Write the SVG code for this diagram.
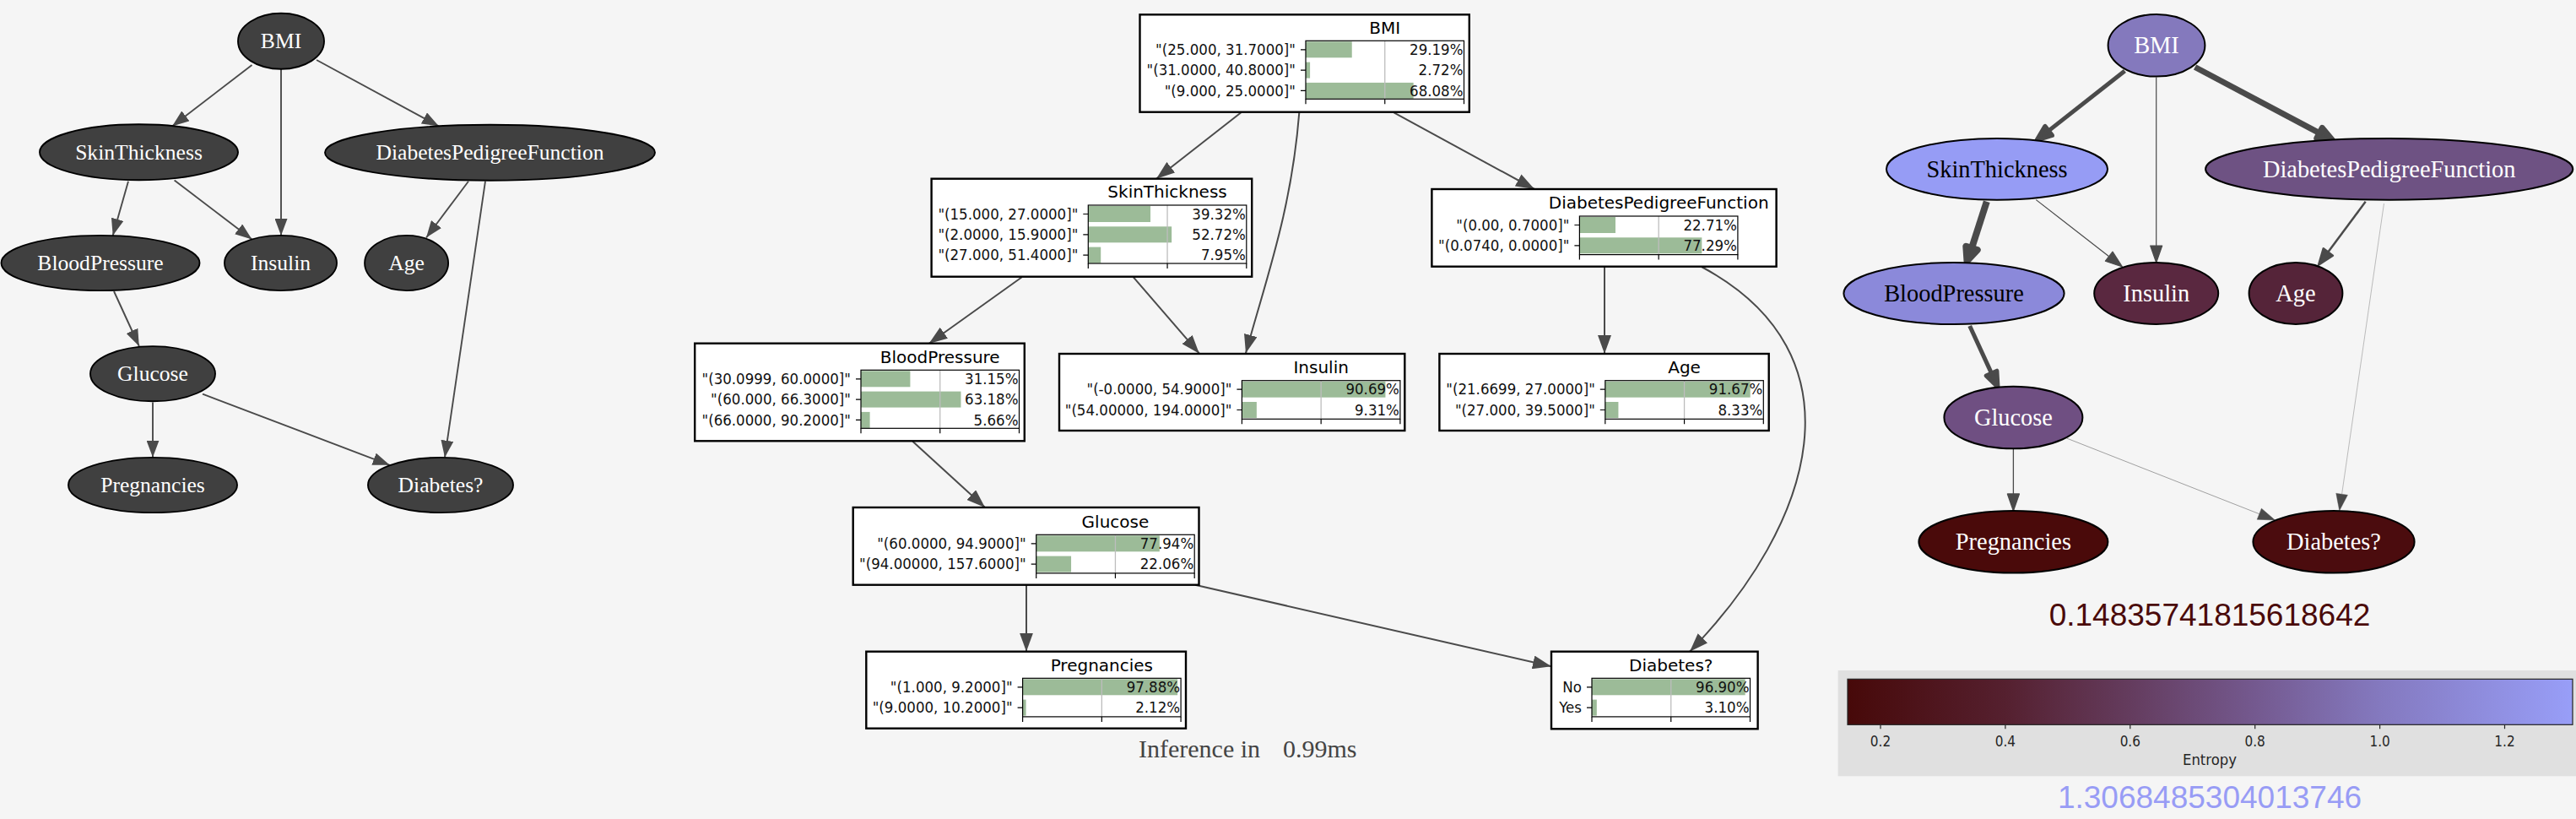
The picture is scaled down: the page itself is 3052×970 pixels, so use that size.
<svg xmlns="http://www.w3.org/2000/svg" width="3052" height="970" viewBox="0 0 3052 970">
<defs>
<style>
.ln ellipse{fill:#404040;stroke:#000;stroke-width:1.9}
.ln text{font-family:"Liberation Serif","Times New Roman",serif;font-size:25.6px;fill:#fff;text-anchor:middle}
.rn ellipse{stroke:#000;stroke-width:2}
.rn text{font-family:"Liberation Serif","Times New Roman",serif;font-size:28.4px;fill:#fff;text-anchor:middle}
.rn text.dk{fill:#000}
.edge{fill:none;stroke:#4a4a4a;stroke-width:1.9}
.medge{fill:none;stroke:#4a4a4a;stroke-width:2}
.ah{fill:#4a4a4a;stroke:#4a4a4a;stroke-linejoin:round}
.box{fill:#fff;stroke:#000;stroke-width:2.4}
.bar{fill:#9cbb98}
.grid{stroke:#bdbdbd;stroke-width:1.3}
.frame{fill:none;stroke:#000;stroke-width:1.2}
.tick{fill:none;stroke:#000;stroke-width:1.2}
.ttl{font-family:"DejaVu Sans",sans-serif;font-size:20px;fill:#000;text-anchor:middle}
.lab{font-family:"DejaVu Sans",sans-serif;font-size:18px;fill:#111;text-anchor:end}
.inf{font-family:"Liberation Serif","Times New Roman",serif;font-size:30px;fill:#444}
.cbl{font-family:"DejaVu Sans",sans-serif;font-size:16.8px;fill:#262626;text-anchor:middle}
.big{font-family:"Liberation Sans",Arial,sans-serif;font-size:37px;text-anchor:middle}
</style>
<marker id="al" markerUnits="userSpaceOnUse" markerWidth="20" markerHeight="15" viewBox="0 0 20 15" refX="20" refY="7.5" orient="auto"><path d="M0,0L20,7.5L0,15z" fill="#4a4a4a"/></marker>
<marker id="am" markerUnits="userSpaceOnUse" markerWidth="22" markerHeight="16" viewBox="0 0 22 16" refX="22" refY="8" orient="auto"><path d="M0,0L22,8L0,16z" fill="#4a4a4a"/></marker>
<linearGradient id="cmap" x1="0" y1="0" x2="1" y2="0">
<stop offset="0" stop-color="#470909"/>
<stop offset="0.2176" stop-color="#55202f"/>
<stop offset="0.3898" stop-color="#643c5e"/>
<stop offset="0.562" stop-color="#74598f"/>
<stop offset="0.7342" stop-color="#8479bf"/>
<stop offset="1" stop-color="#989ef8"/>
</linearGradient>
</defs>
<rect x="0" y="0" width="3052" height="970" fill="#f5f5f5"/>

<g id="connectors">
<g id="edges-left">
<line class="edge" x1="298.5" y1="77" x2="204" y2="149.5" marker-end="url(#al)"/>
<line class="edge" x1="333" y1="82" x2="333" y2="279" marker-end="url(#al)"/>
<line class="edge" x1="375" y1="71" x2="520" y2="149.5" marker-end="url(#al)"/>
<line class="edge" x1="152" y1="214.7" x2="133.7" y2="279" marker-end="url(#al)"/>
<line class="edge" x1="206.6" y1="213.5" x2="298.5" y2="283.5" marker-end="url(#al)"/>
<line class="edge" x1="555" y1="214.7" x2="505" y2="281.5" marker-end="url(#al)"/>
<line class="edge" x1="575" y1="214.7" x2="527" y2="541.7" marker-end="url(#al)"/>
<line class="edge" x1="135" y1="345" x2="164.8" y2="410" marker-end="url(#al)"/>
<line class="edge" x1="181" y1="476.5" x2="181" y2="541.7" marker-end="url(#al)"/>
<line class="edge" x1="240" y1="466.6" x2="461.7" y2="550.8" marker-end="url(#al)"/>
</g>
<g id="edges-middle">
<line class="medge" x1="1470.4" y1="133.3" x2="1370" y2="211.7" marker-end="url(#am)"/>
<path class="medge" d="M1539.3,133.3C1530,250 1500,330 1476,418.3" marker-end="url(#am)"/>
<line class="medge" x1="1651.5" y1="133.3" x2="1818" y2="224" marker-end="url(#am)"/>
<line class="medge" x1="1210.7" y1="328.3" x2="1100.5" y2="407" marker-end="url(#am)"/>
<line class="medge" x1="1342.9" y1="328.3" x2="1420.9" y2="418.7" marker-end="url(#am)"/>
<line class="medge" x1="1901" y1="315.7" x2="1901" y2="419" marker-end="url(#am)"/>
<path class="medge" d="M2016,316C2210,420 2150,620 2002,771.7" marker-end="url(#am)"/>
<line class="medge" x1="1081.3" y1="522.7" x2="1167" y2="601" marker-end="url(#am)"/>
<line class="medge" x1="1216" y1="693" x2="1216" y2="771.7" marker-end="url(#am)"/>
<line class="medge" x1="1416" y1="692.7" x2="1838" y2="789.3" marker-end="url(#am)"/>
</g>
<g id="edges-right">
<line class="edge" style="stroke-width:5" x1="2517.4" y1="84" x2="2427.2" y2="154.9"/>
<polygon class="ah" style="stroke-width:5" points="2431.5,160.4 2422.9,149.4 2413,166"/>
<line class="edge" style="stroke-width:1.2" x1="2554.7" y1="91.5" x2="2554.7" y2="291"/>
<polygon class="ah" style="stroke-width:1.2" points="2547.7,291 2561.7,291 2554.7,311"/>
<line class="edge" style="stroke-width:7" x1="2600.6" y1="79.5" x2="2748" y2="157.6"/>
<polygon class="ah" style="stroke-width:7" points="2744.7,163.8 2751.3,151.4 2763,165.5"/>
<line class="edge" style="stroke-width:8" x1="2353.8" y1="238.8" x2="2336" y2="293.9"/>
<polygon class="ah" style="stroke-width:8" points="2342.7,296 2329.3,291.8 2330.5,309"/>
<line class="edge" style="stroke-width:1.2" x1="2412.3" y1="236.6" x2="2498.7" y2="303.7"/>
<polygon class="ah" style="stroke-width:1.2" points="2494.4,309.2 2503,298.2 2514.5,316"/>
<line class="edge" style="stroke-width:2.5" x1="2802.7" y1="238.8" x2="2758.3" y2="298.5"/>
<polygon class="ah" style="stroke-width:2.5" points="2763.9,302.7 2752.7,294.3 2747,313.8"/>
<line class="edge" style="stroke-width:0.35" x1="2824.5" y1="241" x2="2774.6" y2="585.2"/>
<polygon class="ah" style="stroke-width:0.35" points="2781.5,586.2 2767.7,584.2 2771.7,605"/>
<line class="edge" style="stroke-width:5" x1="2333.7" y1="386" x2="2359.5" y2="442.1"/>
<polygon class="ah" style="stroke-width:5" points="2353.1,445 2365.9,439.2 2367,458.5"/>
<line class="edge" style="stroke-width:1.3" x1="2385.4" y1="531.3" x2="2385.4" y2="585"/>
<polygon class="ah" style="stroke-width:1.3" points="2378.4,585 2392.4,585 2385.4,605"/>
<line class="edge" style="stroke-width:0.5" x1="2448.5" y1="519" x2="2676.8" y2="608.7"/>
<polygon class="ah" style="stroke-width:0.5" points="2674.2,615.2 2679.4,602.2 2695.4,616"/>
</g>
</g>

<g id="left-graph">
<g id="l-BMI" class="ln"><ellipse cx="333" cy="48.8" rx="51" ry="33"/><text x="333" y="57.3">BMI</text></g>
<g id="l-SkinThickness" class="ln"><ellipse cx="164.5" cy="180.3" rx="117.5" ry="33"/><text x="164.5" y="188.8">SkinThickness</text></g>
<g id="l-DiabetesPedigreeFunction" class="ln"><ellipse cx="580.5" cy="180.8" rx="195.5" ry="33"/><text x="580.5" y="189.3">DiabetesPedigreeFunction</text></g>
<g id="l-BloodPressure" class="ln"><ellipse cx="119" cy="311.5" rx="117.5" ry="32.6"/><text x="119" y="320">BloodPressure</text></g>
<g id="l-Insulin" class="ln"><ellipse cx="332.5" cy="311.5" rx="66.5" ry="32.6"/><text x="332.5" y="320">Insulin</text></g>
<g id="l-Age" class="ln"><ellipse cx="481.6" cy="311.5" rx="49.5" ry="32.6"/><text x="481.6" y="320">Age</text></g>
<g id="l-Glucose" class="ln"><ellipse cx="181" cy="442.7" rx="74" ry="32.6"/><text x="181" y="451.2">Glucose</text></g>
<g id="l-Pregnancies" class="ln"><ellipse cx="181" cy="574.5" rx="100" ry="32.6"/><text x="181" y="583">Pregnancies</text></g>
<g id="l-Diabetes" class="ln"><ellipse cx="522" cy="574.5" rx="86" ry="32.6"/><text x="522" y="583">Diabetes?</text></g>
</g>

<g id="middle-graph">
<g id="m-BMI">
<rect class="box" x="1350.5" y="17.3" width="390.3" height="115.4"/>
<g transform="translate(1547,48.3)">
<text class="ttl" x="93.75" y="-8.7">BMI</text>
<rect class="bar" x="0" y="1" width="54.73" height="19"/><rect class="bar" x="0" y="25.3" width="5.1" height="19"/><rect class="bar" x="0" y="49.6" width="127.65" height="19"/>
<line class="grid" x1="93.75" y1="0" x2="93.75" y2="69"/>
<rect class="frame" x="0" y="0" width="187.5" height="69"/>
<path class="tick" d="M-6,10.5H0M-6,34.8H0M-6,59.1H0M0,69v6M93.75,69v6M187.5,69v6"/>
<g transform="translate(-12 0) scale(0.925 1)"><text class="lab" y="16.7">"(25.000, 31.7000]"</text><text class="lab" y="41">"(31.0000, 40.8000]"</text><text class="lab" y="65.3">"(9.000, 25.0000]"</text></g>
<g transform="translate(186.5 0) scale(0.925 1)"><text class="lab" y="16.7">29.19%</text><text class="lab" y="41">2.72%</text><text class="lab" y="65.3">68.08%</text></g>
</g>
</g>
<g id="m-SkinThickness">
<rect class="box" x="1103.6" y="211.7" width="379.6" height="116"/>
<g transform="translate(1289.3,243)">
<text class="ttl" x="93.75" y="-8.7">SkinThickness</text>
<rect class="bar" x="0" y="1" width="73.73" height="19"/><rect class="bar" x="0" y="25.3" width="98.85" height="19"/><rect class="bar" x="0" y="49.6" width="14.91" height="19"/>
<line class="grid" x1="93.75" y1="0" x2="93.75" y2="69"/>
<rect class="frame" x="0" y="0" width="187.5" height="69"/>
<path class="tick" d="M-6,10.5H0M-6,34.8H0M-6,59.1H0M0,69v6M93.75,69v6M187.5,69v6"/>
<g transform="translate(-12 0) scale(0.925 1)"><text class="lab" y="16.7">"(15.000, 27.0000]"</text><text class="lab" y="41">"(2.0000, 15.9000]"</text><text class="lab" y="65.3">"(27.000, 51.4000]"</text></g>
<g transform="translate(186.5 0) scale(0.925 1)"><text class="lab" y="16.7">39.32%</text><text class="lab" y="41">52.72%</text><text class="lab" y="65.3">7.95%</text></g>
</g>
</g>
<g id="m-DiabetesPedigreeFunction">
<rect class="box" x="1696.4" y="224" width="408.2" height="91.7"/>
<g transform="translate(1871.4,256)">
<text class="ttl" x="93.75" y="-8.7">DiabetesPedigreeFunction</text>
<rect class="bar" x="0" y="1" width="42.58" height="19"/><rect class="bar" x="0" y="25.3" width="144.92" height="19"/>
<line class="grid" x1="93.75" y1="0" x2="93.75" y2="45.6"/>
<rect class="frame" x="0" y="0" width="187.5" height="45.6"/>
<path class="tick" d="M-6,10.5H0M-6,34.8H0M0,45.6v6M93.75,45.6v6M187.5,45.6v6"/>
<g transform="translate(-12 0) scale(0.925 1)"><text class="lab" y="16.7">"(0.00, 0.7000]"</text><text class="lab" y="41">"(0.0740, 0.0000]"</text></g>
<g transform="translate(186.5 0) scale(0.925 1)"><text class="lab" y="16.7">22.71%</text><text class="lab" y="41">77.29%</text></g>
</g>
</g>
<g id="m-BloodPressure">
<rect class="box" x="823.2" y="406.7" width="390.6" height="115.6"/>
<g transform="translate(1020,438.3)">
<text class="ttl" x="93.75" y="-8.7">BloodPressure</text>
<rect class="bar" x="0" y="1" width="58.41" height="19"/><rect class="bar" x="0" y="25.3" width="118.46" height="19"/><rect class="bar" x="0" y="49.6" width="10.61" height="19"/>
<line class="grid" x1="93.75" y1="0" x2="93.75" y2="69"/>
<rect class="frame" x="0" y="0" width="187.5" height="69"/>
<path class="tick" d="M-6,10.5H0M-6,34.8H0M-6,59.1H0M0,69v6M93.75,69v6M187.5,69v6"/>
<g transform="translate(-12 0) scale(0.925 1)"><text class="lab" y="16.7">"(30.0999, 60.0000]"</text><text class="lab" y="41">"(60.000, 66.3000]"</text><text class="lab" y="65.3">"(66.0000, 90.2000]"</text></g>
<g transform="translate(186.5 0) scale(0.925 1)"><text class="lab" y="16.7">31.15%</text><text class="lab" y="41">63.18%</text><text class="lab" y="65.3">5.66%</text></g>
</g>
</g>
<g id="m-Insulin">
<rect class="box" x="1255" y="419" width="409.3" height="91"/>
<g transform="translate(1471.4,450.7)">
<text class="ttl" x="93.75" y="-8.7">Insulin</text>
<rect class="bar" x="0" y="1" width="170.04" height="19"/><rect class="bar" x="0" y="25.3" width="17.46" height="19"/>
<line class="grid" x1="93.75" y1="0" x2="93.75" y2="45.6"/>
<rect class="frame" x="0" y="0" width="187.5" height="45.6"/>
<path class="tick" d="M-6,10.5H0M-6,34.8H0M0,45.6v6M93.75,45.6v6M187.5,45.6v6"/>
<g transform="translate(-12 0) scale(0.925 1)"><text class="lab" y="16.7">"(-0.0000, 54.9000]"</text><text class="lab" y="41">"(54.00000, 194.0000]"</text></g>
<g transform="translate(186.5 0) scale(0.925 1)"><text class="lab" y="16.7">90.69%</text><text class="lab" y="41">9.31%</text></g>
</g>
</g>
<g id="m-Age">
<rect class="box" x="1705.4" y="419" width="390.3" height="91"/>
<g transform="translate(1901.8,450.7)">
<text class="ttl" x="93.75" y="-8.7">Age</text>
<rect class="bar" x="0" y="1" width="171.88" height="19"/><rect class="bar" x="0" y="25.3" width="15.62" height="19"/>
<line class="grid" x1="93.75" y1="0" x2="93.75" y2="45.6"/>
<rect class="frame" x="0" y="0" width="187.5" height="45.6"/>
<path class="tick" d="M-6,10.5H0M-6,34.8H0M0,45.6v6M93.75,45.6v6M187.5,45.6v6"/>
<g transform="translate(-12 0) scale(0.925 1)"><text class="lab" y="16.7">"(21.6699, 27.0000]"</text><text class="lab" y="41">"(27.000, 39.5000]"</text></g>
<g transform="translate(186.5 0) scale(0.925 1)"><text class="lab" y="16.7">91.67%</text><text class="lab" y="41">8.33%</text></g>
</g>
</g>
<g id="m-Glucose">
<rect class="box" x="1010.7" y="601" width="409.8" height="91.7"/>
<g transform="translate(1227.7,633.3)">
<text class="ttl" x="93.75" y="-8.7">Glucose</text>
<rect class="bar" x="0" y="1" width="146.14" height="19"/><rect class="bar" x="0" y="25.3" width="41.36" height="19"/>
<line class="grid" x1="93.75" y1="0" x2="93.75" y2="45.6"/>
<rect class="frame" x="0" y="0" width="187.5" height="45.6"/>
<path class="tick" d="M-6,10.5H0M-6,34.8H0M0,45.6v6M93.75,45.6v6M187.5,45.6v6"/>
<g transform="translate(-12 0) scale(0.925 1)"><text class="lab" y="16.7">"(60.0000, 94.9000]"</text><text class="lab" y="41">"(94.00000, 157.6000]"</text></g>
<g transform="translate(186.5 0) scale(0.925 1)"><text class="lab" y="16.7">77.94%</text><text class="lab" y="41">22.06%</text></g>
</g>
</g>
<g id="m-Pregnancies">
<rect class="box" x="1026.3" y="771.7" width="378.7" height="91"/>
<g transform="translate(1211.6,803.3)">
<text class="ttl" x="93.75" y="-8.7">Pregnancies</text>
<rect class="bar" x="0" y="1" width="183.53" height="19"/><rect class="bar" x="0" y="25.3" width="3.98" height="19"/>
<line class="grid" x1="93.75" y1="0" x2="93.75" y2="45.6"/>
<rect class="frame" x="0" y="0" width="187.5" height="45.6"/>
<path class="tick" d="M-6,10.5H0M-6,34.8H0M0,45.6v6M93.75,45.6v6M187.5,45.6v6"/>
<g transform="translate(-12 0) scale(0.925 1)"><text class="lab" y="16.7">"(1.000, 9.2000]"</text><text class="lab" y="41">"(9.0000, 10.2000]"</text></g>
<g transform="translate(186.5 0) scale(0.925 1)"><text class="lab" y="16.7">97.88%</text><text class="lab" y="41">2.12%</text></g>
</g>
</g>
<g id="m-Diabetes">
<rect class="box" x="1838" y="771.7" width="244.6" height="91.6"/>
<g transform="translate(1886,803.3)">
<text class="ttl" x="93.75" y="-8.7">Diabetes?</text>
<rect class="bar" x="0" y="1" width="181.69" height="19"/><rect class="bar" x="0" y="25.3" width="5.81" height="19"/>
<line class="grid" x1="93.75" y1="0" x2="93.75" y2="45.6"/>
<rect class="frame" x="0" y="0" width="187.5" height="45.6"/>
<path class="tick" d="M-6,10.5H0M-6,34.8H0M0,45.6v6M93.75,45.6v6M187.5,45.6v6"/>
<g transform="translate(-12 0) scale(0.925 1)"><text class="lab" y="16.7">No</text><text class="lab" y="41">Yes</text></g>
<g transform="translate(186.5 0) scale(0.925 1)"><text class="lab" y="16.7">96.90%</text><text class="lab" y="41">3.10%</text></g>
</g>
</g>
<text class="inf" x="1349" y="896.5">Inference in<tspan x="1520">0.99ms</tspan></text>
</g>

<g id="right-graph">
<g id="r-BMI" class="rn"><ellipse cx="2555" cy="53.8" rx="57.4" ry="36.8" fill="#8479bd"/><text x="2555" y="63.3">BMI</text></g>
<g id="r-SkinThickness" class="rn"><ellipse cx="2366" cy="200.3" rx="131" ry="36.4" fill="#969cf5"/><text class="dk" x="2366" y="209.8">SkinThickness</text></g>
<g id="r-DiabetesPedigreeFunction" class="rn"><ellipse cx="2830.7" cy="200.3" rx="217.6" ry="36.4" fill="#6e5283"/><text x="2830.7" y="209.8">DiabetesPedigreeFunction</text></g>
<g id="r-BloodPressure" class="rn"><ellipse cx="2315" cy="347.5" rx="130.6" ry="36.5" fill="#8b89da"/><text class="dk" x="2315" y="357">BloodPressure</text></g>
<g id="r-Insulin" class="rn"><ellipse cx="2554.7" cy="347.5" rx="73.5" ry="36.5" fill="#5a2840"/><text x="2554.7" y="357">Insulin</text></g>
<g id="r-Age" class="rn"><ellipse cx="2720" cy="347.5" rx="55.4" ry="36.5" fill="#552439"/><text x="2720" y="357">Age</text></g>
<g id="r-Glucose" class="rn"><ellipse cx="2385.4" cy="494.5" rx="82" ry="36.8" fill="#6f4f82"/><text x="2385.4" y="504">Glucose</text></g>
<g id="r-Pregnancies" class="rn"><ellipse cx="2385.4" cy="641.7" rx="112" ry="36.8" fill="#4a0a0a"/><text x="2385.4" y="651.2">Pregnancies</text></g>
<g id="r-Diabetes" class="rn"><ellipse cx="2765" cy="641.7" rx="95.6" ry="36.8" fill="#4b0c0e"/><text x="2765" y="651.2">Diabetes?</text></g>
</g>

<g id="colorbar">
<text class="big" x="2618" y="740.7" fill="#4a0a0a">0.14835741815618642</text>
<rect x="2177.6" y="794" width="874.4" height="125.3" fill="#e0e0e0"/>
<rect x="2189" y="804.3" width="859" height="54" fill="url(#cmap)" stroke="#222" stroke-width="1.2"/>
<path d="M2228,858.3v5M2375.9,858.3v5M2523.8,858.3v5M2671.7,858.3v5M2819.6,858.3v5M2967.5,858.3v5" stroke="#262626" stroke-width="1.2"/>
<text class="cbl" x="2228" y="884" textLength="24.3" lengthAdjust="spacingAndGlyphs">0.2</text>
<text class="cbl" x="2375.9" y="884" textLength="24.3" lengthAdjust="spacingAndGlyphs">0.4</text>
<text class="cbl" x="2523.8" y="884" textLength="24.3" lengthAdjust="spacingAndGlyphs">0.6</text>
<text class="cbl" x="2671.7" y="884" textLength="24.3" lengthAdjust="spacingAndGlyphs">0.8</text>
<text class="cbl" x="2819.6" y="884" textLength="24.3" lengthAdjust="spacingAndGlyphs">1.0</text>
<text class="cbl" x="2967.5" y="884" textLength="24.3" lengthAdjust="spacingAndGlyphs">1.2</text>
<text class="cbl" x="2618" y="905.5" textLength="64" lengthAdjust="spacingAndGlyphs">Entropy</text>
<text class="big" x="2618" y="956.7" fill="#989cf5">1.3068485304013746</text>
</g>
</svg>
